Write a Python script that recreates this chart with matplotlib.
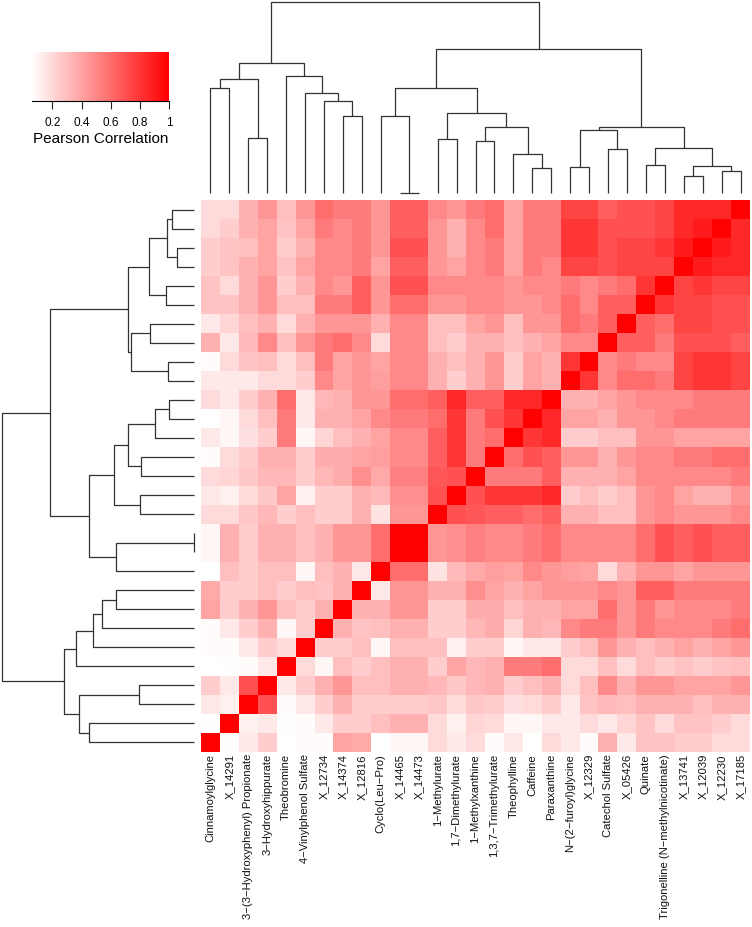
import numpy as np
import matplotlib
matplotlib.use('Agg')
import matplotlib.pyplot as plt
from matplotlib.colors import LinearSegmentedColormap

labels = ["Cinnamoylglycine", "X_14291", "3\u2212(3\u2212Hydroxyphenyl) Propionate",
          "3\u2212Hydroxyhippurate", "Theobromine", "4\u2212Vinylphenol Sulfate",
          "X_12734", "X_14374", "X_12816", "Cyclo(Leu\u2212Pro)", "X_14465", "X_14473",
          "1\u2212Methylurate", "1,7\u2212Dimethylurate", "1\u2212Methylxanthine",
          "1,3,7\u2212Trimethylurate", "Theophylline", "Caffeine", "Paraxanthine",
          "N\u2212(2\u2212furoyl)glycine", "X_12329", "Catechol Sulfate", "X_05426",
          "Quinate", "Trigonelline (N\u2212methylnicotinate)", "X_13741", "X_12039",
          "X_12230", "X_17185"]

# lower triangle of the correlation matrix: row j holds corr(j, 0..j-1)
corr_lower = [
    [],
    [0.07],
    [0.15, 0.12],
    [0.25, 0.15, 0.70],
    [0.06, 0.07, 0.08, 0.15],
    [0.08, 0.08, 0.15, 0.25, 0.20],
    [0.08, 0.15, 0.25, 0.35, 0.10, 0.25],
    [0.40, 0.25, 0.35, 0.45, 0.30, 0.25, 0.35],
    [0.38, 0.25, 0.25, 0.30, 0.25, 0.30, 0.28, 0.35],
    [0.06, 0.30, 0.25, 0.30, 0.30, 0.10, 0.30, 0.35, 0.15],
    [0.10, 0.35, 0.25, 0.35, 0.35, 0.30, 0.35, 0.45, 0.45, 0.60],
    [0.10, 0.35, 0.25, 0.35, 0.35, 0.30, 0.35, 0.45, 0.45, 0.60, 0.99],
    [0.20, 0.20, 0.27, 0.33, 0.25, 0.30, 0.25, 0.25, 0.35, 0.17, 0.45, 0.45],
    [0.15, 0.12, 0.20, 0.27, 0.40, 0.12, 0.25, 0.25, 0.35, 0.32, 0.48, 0.48, 0.70],
    [0.20, 0.22, 0.27, 0.33, 0.33, 0.25, 0.33, 0.37, 0.48, 0.38, 0.53, 0.53, 0.68, 0.70],
    [0.08, 0.20, 0.25, 0.35, 0.35, 0.25, 0.37, 0.37, 0.40, 0.42, 0.50, 0.50, 0.65, 0.80, 0.55],
    [0.15, 0.10, 0.18, 0.25, 0.55, 0.10, 0.22, 0.30, 0.35, 0.40, 0.50, 0.50, 0.65, 0.80, 0.55, 0.60],
    [0.06, 0.10, 0.20, 0.30, 0.55, 0.15, 0.35, 0.35, 0.40, 0.50, 0.55, 0.55, 0.60, 0.80, 0.55, 0.70, 0.80],
    [0.20, 0.15, 0.25, 0.35, 0.60, 0.15, 0.33, 0.35, 0.45, 0.45, 0.60, 0.60, 0.65, 0.85, 0.65, 0.65, 0.85, 0.85],
    [0.15, 0.15, 0.15, 0.20, 0.20, 0.25, 0.50, 0.40, 0.45, 0.42, 0.50, 0.50, 0.35, 0.25, 0.35, 0.45, 0.25, 0.40, 0.35],
    [0.08, 0.20, 0.28, 0.30, 0.20, 0.30, 0.55, 0.40, 0.45, 0.40, 0.50, 0.50, 0.35, 0.30, 0.35, 0.45, 0.25, 0.40, 0.35, 0.80],
    [0.35, 0.15, 0.32, 0.50, 0.30, 0.45, 0.55, 0.60, 0.50, 0.20, 0.50, 0.50, 0.30, 0.25, 0.35, 0.35, 0.30, 0.35, 0.40, 0.50, 0.50],
    [0.15, 0.22, 0.30, 0.35, 0.20, 0.35, 0.45, 0.45, 0.45, 0.35, 0.50, 0.50, 0.30, 0.30, 0.40, 0.45, 0.30, 0.45, 0.45, 0.60, 0.55, 0.65],
    [0.28, 0.28, 0.35, 0.45, 0.30, 0.30, 0.55, 0.55, 0.65, 0.45, 0.60, 0.60, 0.45, 0.45, 0.50, 0.50, 0.45, 0.45, 0.50, 0.60, 0.50, 0.65, 0.65],
    [0.28, 0.20, 0.35, 0.45, 0.25, 0.35, 0.50, 0.45, 0.65, 0.45, 0.70, 0.70, 0.50, 0.50, 0.50, 0.50, 0.45, 0.50, 0.50, 0.55, 0.50, 0.55, 0.60, 0.80],
    [0.25, 0.28, 0.35, 0.40, 0.28, 0.40, 0.50, 0.50, 0.55, 0.40, 0.65, 0.65, 0.45, 0.40, 0.50, 0.55, 0.40, 0.55, 0.50, 0.75, 0.75, 0.70, 0.75, 0.75, 0.75],
    [0.25, 0.28, 0.30, 0.40, 0.25, 0.35, 0.50, 0.50, 0.55, 0.45, 0.70, 0.70, 0.45, 0.35, 0.50, 0.55, 0.40, 0.55, 0.55, 0.80, 0.80, 0.70, 0.75, 0.75, 0.80, 0.90],
    [0.20, 0.25, 0.35, 0.40, 0.28, 0.40, 0.55, 0.50, 0.55, 0.45, 0.65, 0.65, 0.45, 0.35, 0.50, 0.60, 0.40, 0.55, 0.55, 0.80, 0.80, 0.70, 0.70, 0.70, 0.75, 0.85, 0.90],
    [0.20, 0.20, 0.35, 0.45, 0.30, 0.45, 0.60, 0.55, 0.55, 0.45, 0.65, 0.65, 0.50, 0.45, 0.55, 0.60, 0.40, 0.55, 0.55, 0.75, 0.75, 0.65, 0.70, 0.70, 0.75, 0.85, 0.85, 0.85],
]

# hierarchical clustering merges: (left id, right id, height); new ids start at 29
merge_left = [0, 2, 29, 7, 6, 5, 4, 31, 10, 9, 12, 14, 17, 16, 40, 39, 38, 19, 21, 46, 23, 25, 27, 50, 49, 48, 45, 36]
merge_right = [1, 3, 30, 8, 32, 33, 34, 35, 11, 37, 13, 15, 18, 41, 42, 43, 44, 20, 22, 47, 24, 26, 28, 51, 52, 53, 54, 55]
merge_height = [1.050, 0.553, 1.146, 0.776, 0.920, 1.006, 1.173, 1.300, 0.003, 0.776,
                0.540, 0.526, 0.250, 0.393, 0.660, 0.800, 1.050, 0.260, 0.440, 0.633,
                0.283, 0.173, 0.220, 0.273, 0.450, 0.660, 1.440, 1.916]

key_ticks = [0.2, 0.4, 0.6, 0.8, 1.0]
key_ticklabels = ["0.2", "0.4", "0.6", "0.8", "1"]

n = len(labels)
M = np.eye(n)
for j, row in enumerate(corr_lower):
    for c, v in enumerate(row):
        M[j, c] = v
        M[c, j] = v

vmin, vmax = 0.0635, 1.0
cmap = LinearSegmentedColormap.from_list('wr', ['#FFFFFF', '#FF0000'])

FONT = ['Liberation Sans', 'DejaVu Sans']
W, H = 752, 927
fig = plt.figure(figsize=(W / 100, H / 100), dpi=100)


def ax_px(x0, y0, x1, y1):
    return fig.add_axes([x0 / W, 1 - y1 / H, (x1 - x0) / W, (y1 - y0) / H])


# heatmap
hm = ax_px(201, 200, 750, 752)
hm.imshow(M, cmap=cmap, vmin=vmin, vmax=vmax, origin='lower',
          extent=(0, n, 0, n), aspect='auto', interpolation='nearest')
hm.set_xlim(0, n)
hm.set_ylim(0, n)
hm.set_xticks(np.arange(n) + 0.5)
hm.set_xticklabels(labels, rotation=90, fontsize=8.1, family=FONT, color='#111111')
hm.tick_params(axis='x', length=0, pad=1.5)
hm.set_yticks([])
for s in hm.spines.values():
    s.set_visible(False)

# dendrogram geometry
pos = {i: i + 0.5 for i in range(n)}
hgt = {i: 0.0 for i in range(n)}
segments = []
for k, (a, b, h) in enumerate(zip(merge_left, merge_right, merge_height)):
    xa, xb = pos[a], pos[b]
    segments.append(([xa, xa, xb, xb], [hgt[a], h, h, hgt[b]]))
    pos[n + k] = (xa + xb) / 2
    hgt[n + k] = h
root_h = max(merge_height)
lc = '#333333'
lw = 0.9

top = ax_px(201, 1.7, 750, 193.3)
for xs, ys in segments:
    top.plot(xs, ys, color=lc, lw=lw, clip_on=False, solid_capstyle='butt')
top.set_xlim(0, n)
top.set_ylim(0, root_h)
top.axis('off')

left = ax_px(1.7, 200, 194.3, 752)
for xs, ys in segments:
    left.plot(ys, xs, color=lc, lw=lw, clip_on=False, solid_capstyle='butt')
left.set_ylim(0, n)
left.set_xlim(root_h, 0)
left.axis('off')

# color key
key = ax_px(32.3, 51.7, 169.3, 101)
grad = np.linspace(vmin, vmax, 256).reshape(1, -1)
key.imshow(grad, cmap=cmap, vmin=vmin, vmax=vmax, extent=(vmin, vmax, 0, 1),
           aspect='auto', interpolation='bilinear')
key.set_xlim(vmin, vmax)
key.set_ylim(0, 1)
key.set_yticks([])
key.set_xticks(key_ticks)
key.set_xticklabels(key_ticklabels, fontsize=8.5, family=FONT)
key.tick_params(axis='x', length=6, width=0.8, pad=5.5, color='#222222')
for s in ['top', 'left', 'right']:
    key.spines[s].set_visible(False)
key.spines['bottom'].set_linewidth(0.8)
key.set_xlabel('Pearson Correlation', fontsize=11, family=FONT, labelpad=2)

fig.savefig('out.png', dpi=100)
